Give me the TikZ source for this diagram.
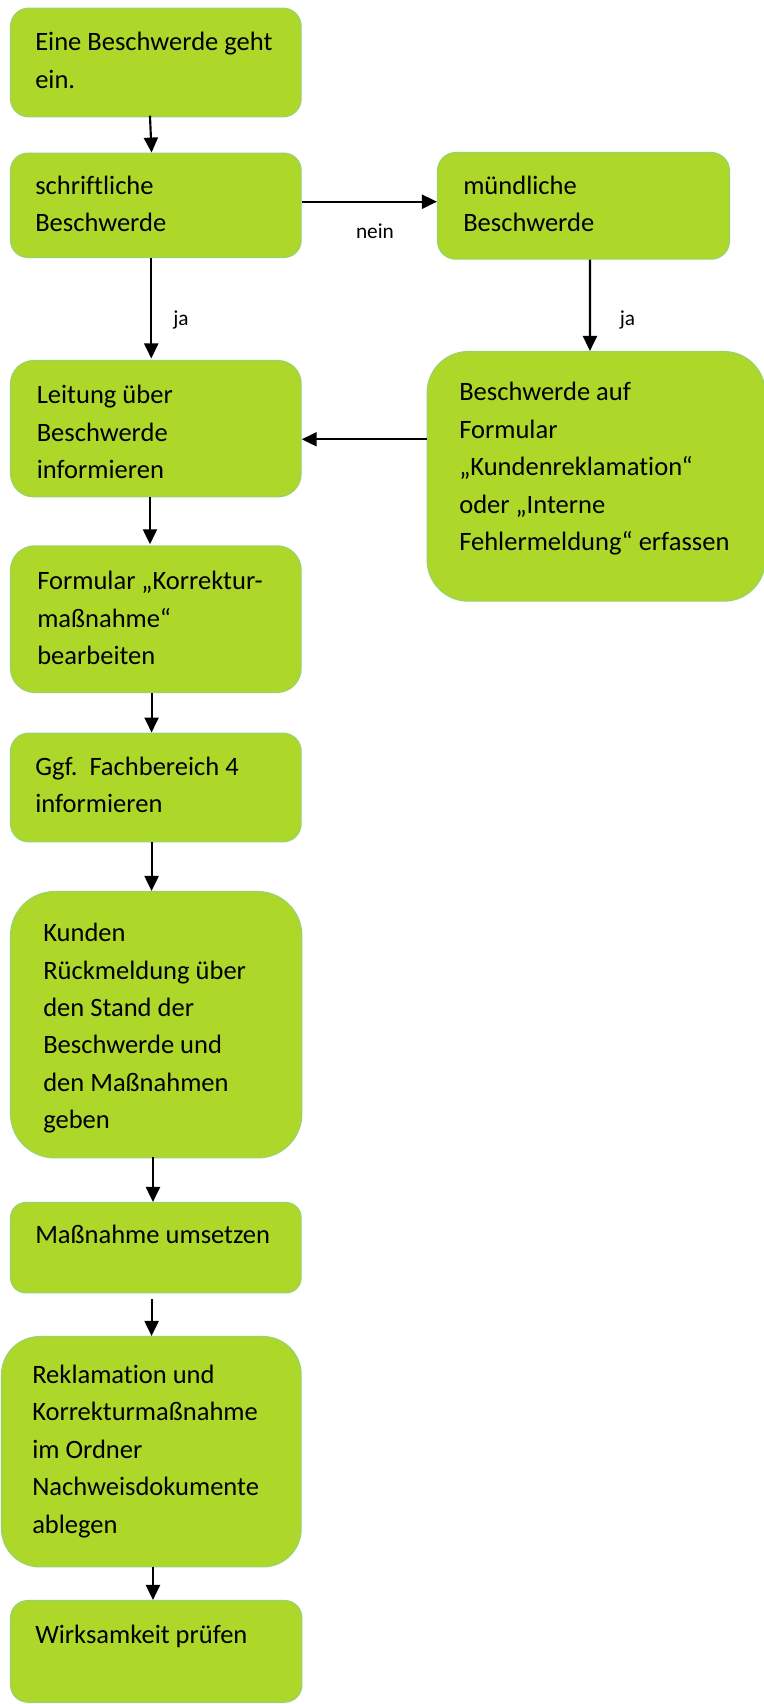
\documentclass[tikz,border=0pt]{standalone}
\usepackage{fontspec}
\setmainfont{Carlito}[Ligatures={TeX,NoCommon}]
\usetikzlibrary{arrows.meta,calc,fit}
\definecolor{boxfill}{RGB}{173,216,42}
\definecolor{boxline}{RGB}{155,211,96}
\newcommand\topstrut{\rule{0pt}{14.9pt}}
\begin{document}
\begin{tikzpicture}[x=0.75pt,y=-0.75pt,
  box/.style={draw=boxline, fill=boxfill, line width=1.1pt, inner sep=0pt, rectangle},
  txt/.style={anchor=north west, align=left, inner sep=0pt, font=\fontsize{19.9pt}{28.1pt}\selectfont},
  lbl/.style={anchor=base, inner sep=0pt, font=\fontsize{16pt}{19pt}\selectfont},
  arr/.style={line width=1.6pt, -{Triangle[length=11.25pt,width=10.5pt]}}]
\useasboundingbox (0,0) rectangle (764,1704);
% boxes
\node[box, rounded corners=13.5pt, fit={(10.7,8.3) (301,116.7)}] (b1) {};
\node[box, rounded corners=12.75pt, fit={(10.7,153.3) (301,257.3)}] (b2) {};
\node[box, rounded corners=13.5pt, fit={(437.7,152.7) (729.3,259)}] (b3) {};
\node[box, rounded corners=17.25pt, fit={(10.7,360.7) (301,496.7)}] (b4) {};
\node[box, rounded corners=30.75pt, fit={(427.3,351.7) (765,601)}] (b5) {};
\node[box, rounded corners=18pt, fit={(10.7,546) (301,692.3)}] (b6) {};
\node[box, rounded corners=13.5pt, fit={(10.7,733.3) (301,841.7)}] (b7) {};
\node[box, rounded corners=33pt, fit={(10.7,891.7) (301.7,1157.7)}] (b8) {};
\node[box, rounded corners=11.25pt, fit={(10.7,1202.7) (301,1292.7)}] (b9) {};
\node[box, rounded corners=28.5pt, fit={(1.7,1336.7) (301,1566.7)}] (b10) {};
\node[box, rounded corners=12.75pt, fit={(10.7,1600.7) (301.7,1702)}] (b11) {};
% texts
\node[txt] (t1) at (35,30.5) {\topstrut Eine Beschwerde geht\\ein.};
\node[txt] (t2) at (35,174) {\topstrut schriftliche\\Beschwerde};
\node[txt] (t3) at (463,174.1) {\topstrut mündliche\\Beschwerde};
\node[txt] (t4) at (36.5,383.6) {\topstrut Leitung über\\Beschwerde\\informieren};
\node[txt] (t5) at (459,380.5) {\topstrut Beschwerde auf\\Formular\\„Kundenreklamation“\\oder „Interne\\Fehlermeldung“ erfassen};
\node[txt] (t6) at (37,569.5) {\topstrut Formular „Korrektur-\\maßnahme“\\bearbeiten};
\node[txt] (t7) at (35,755.3) {\topstrut Ggf.\ \ Fachbereich 4\\informieren};
\node[txt] (t8) at (43,921.4) {\topstrut Kunden\\Rückmeldung über\\den Stand der\\Beschwerde und\\den Maßnahmen\\geben};
\node[txt] (t9) at (35,1223.6) {\topstrut Maßnahme umsetzen};
\node[txt] (t10) at (32,1363.1) {\topstrut Reklamation und\\Korrekturmaßnahme\\im Ordner\\Nachweisdokumente\\ablegen};
\node[txt] (t11) at (35,1623) {\topstrut Wirksamkeit prüfen};
% connectors
\draw[arr] ($(b1.south west)+(140,-1.7)$) -- ($(b2.north west)+(141.6,0)$);
\coordinate (c2) at ($(b2.east)+(0,-3.6)$);
\draw[arr] (c2) -- (c2 -| b3.west);
\node[lbl] (nein) at (375,238) {nein};
\draw[arr] ($(b2.south west)+(141.3,0)$) -- ($(b4.north west)+(141.3,-1.5)$);
\node[lbl] (ja1) at (181,325) {ja};
\draw[arr] ($(b3.south west)+(153,0)$) -- ($(b5.north west)+(163.4,0)$);
\node[lbl] (ja2) at (627.5,325) {ja};
\coordinate (c5) at ($(b5.north west)+(0,88.3)$);
\draw[arr] (c5) -- (c5 -| b4.east);
\draw[arr] ($(b4.south west)+(140,0)$) -- ($(b6.north west)+(140,-1)$);
\draw[arr] ($(b6.south west)+(141.6,0)$) -- ($(b7.north west)+(141.6,0)$);
\draw[arr] ($(b7.south west)+(141.6,0)$) -- ($(b8.north west)+(141.6,0)$);
\draw[arr] ($(b8.south west)+(143,-1)$) -- ($(b9.north west)+(143,0)$);
\draw[arr] ($(b9.south west)+(141.6,5.6)$) -- ($(b10.north west)+(150.6,0)$);
\draw[arr] ($(b10.south west)+(152,-0.7)$) -- ($(b11.north west)+(143,0)$);
\end{tikzpicture}
\end{document}
